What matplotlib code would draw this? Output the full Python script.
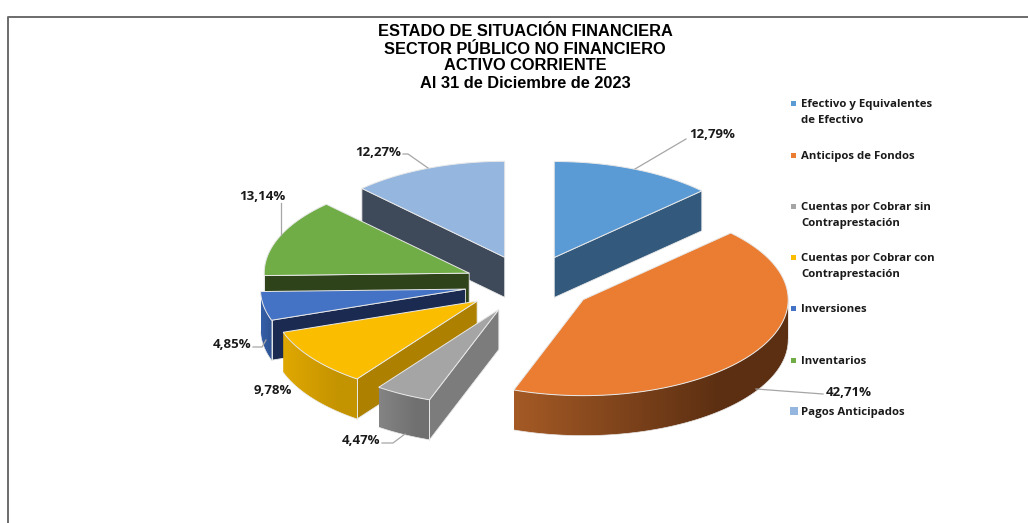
#!/usr/bin/python
import numpy as np
import matplotlib
matplotlib.use('Agg')
import matplotlib.pyplot as plt
from matplotlib.colors import to_rgb
from matplotlib.patches import Polygon, Rectangle

#===============================
title_lines = ["ESTADO DE SITUACIÓN FINANCIERA", "SECTOR PÚBLICO NO FINANCIERO",
               "ACTIVO CORRIENTE", "Al 31 de Diciembre de 2023"]
categories = ["Efectivo y Equivalentes\nde Efectivo", "Anticipos de Fondos",
              "Cuentas por Cobrar sin\nContraprestación",
              "Cuentas por Cobrar con\nContraprestación",
              "Inversiones", "Inventarios", "Pagos Anticipados"]
values = [12.79, 42.71, 4.47, 9.78, 4.85, 13.14, 12.27]

top_colors = ['#5b9bd5', '#ea7d32', '#a5a5a5', '#fbbd00', '#4472c4', '#70ad47', '#95b6df']
cut_colors = ['#335a7c', '#5c2f12', '#7c7c7c', '#ad8000', '#1a2a50', '#2e431a', '#3e4a59']
wall_left = ['#335a7c', '#a55a25', '#848484', '#e0a800', '#3560a8', '#2e431a', '#3e4a59']
wall_right = ['#335a7c', '#5c2f12', '#707070', '#c49300', '#2f5597', '#2e431a', '#3e4a59']

# pie geometry, in pixels of the figure
CX, CY = 529, 284
RX, RY = 205, 96
DEPTH = 40
EXPLODE_X, EXPLODE_Y = 0.315, 0.30
EDGE = '#e8e8e8'
draw_order = [6, 5, 4, 3, 2, 0, 1]

label_pos = [(712, 134), (849, 392), (361, 440), (273, 389), (232, 344), (262, 196), (378, 152)]
leaders = [[(686, 139), (635, 169)], [(823, 394), (756, 389)], [(382, 443), (393, 443), (405, 434)],
           [], [(253, 347), (262, 347), (266, 340)], [(281, 203), (281, 235)],
           [(403, 154), (408, 154), (428, 168)]]
legend_y = [103, 155, 206, 257, 308, 360, 411]

LABEL_FONT = 'Open Sans'

#===============================
def Arc(c, a0, a1, n=80):
  t = np.radians(np.linspace(a0, a1, n))
  return c[0] + RX * np.sin(t), c[1] - RY * np.cos(t)

def CutFace(ax, apex, px, py, color, z):
  quad = [apex, (px, py), (px, py + DEPTH), (apex[0], apex[1] + DEPTH)]
  ax.add_patch(Polygon(quad, closed=True, fc=color, ec=EDGE, lw=0.6, zorder=z))

def DrawSlice(ax, i, a0, a1, z):
  mid = np.radians((a0 + a1) / 2.0)
  apex = (CX + EXPLODE_X * RX * np.sin(mid), CY - EXPLODE_Y * RY * np.cos(mid))
  x, y = Arc(apex, a0, a1)

  # cut faces, only the ones turned to the viewer
  if np.sin(np.radians(a0)) < -1e-6:
    CutFace(ax, apex, x[0], y[0], cut_colors[i], z)
  if np.sin(np.radians(a1)) > 1e-6:
    CutFace(ax, apex, x[-1], y[-1], cut_colors[i], z)

  # the rim, where it faces the viewer, shaded from left to right
  f0, f1 = max(a0, 90), min(a1, 270)
  if f1 > f0:
    fx, fy = Arc(apex, f0, f1, 80)
    pts = list(zip(fx, fy)) + list(zip(fx[::-1], fy[::-1] + DEPTH))
    clip = Polygon(pts, closed=True, fc='none', ec='none', zorder=z + 0.1)
    ax.add_patch(clip)
    t = np.clip(np.linspace(0, 1, 256) / 0.75, 0, 1)[:, None]
    grad = np.array(to_rgb(wall_left[i])) * (1 - t) + np.array(to_rgb(wall_right[i])) * t
    box = (fx.min(), fx.max(), (fy + DEPTH).max(), fy.min())
    im = ax.imshow(grad[None, :, :], extent=box, aspect='auto', zorder=z + 0.1)
    im.set_clip_path(clip)
    ax.plot([fx[0], fx[0]], [fy[0], fy[0] + DEPTH], color=EDGE, lw=0.7, zorder=z + 0.2)
    ax.plot(fx, fy + DEPTH, color=EDGE, lw=0.5, zorder=z + 0.2)

  # the top face
  pts = [apex] + list(zip(x, y))
  ax.add_patch(Polygon(pts, closed=True, fc=top_colors[i], ec=EDGE, lw=0.7, zorder=z + 0.3))

#==================================
def DrawFig(filename):
  fig = plt.figure(figsize=(10.28, 5.23), dpi=100)
  ax = fig.add_axes([0, 0, 1, 1])
  ax.axis('off')

  # chart frame, only its left and top sides are in the picture
  ax.plot([8, 8, 1028], [523, 17, 17], color='#6b6b6b', lw=1.4, zorder=1)

  for line, y in zip(title_lines, [31, 50, 66, 84]):
    ax.text(525, y, line, ha='center', va='center', family='Liberation Sans',
            weight='bold', fontsize=11.8, color='black')

  total = float(sum(values))
  edges = np.concatenate([[0.0], np.cumsum(values)]) / total * 360.0
  for n, i in enumerate(draw_order):
    DrawSlice(ax, i, edges[i], edges[i + 1], 2 + n)

  for i in range(len(values)):
    if leaders[i]:
      lx, ly = zip(*leaders[i])
      ax.plot(lx, ly, color='#a6a6a6', lw=0.9, zorder=20)
    txt = ("%.2f%%" % values[i]).replace('.', ',')
    ax.text(label_pos[i][0], label_pos[i][1] + 1, txt, ha='center', va='center',
            family=LABEL_FONT, weight='bold', fontsize=9.5, color='#1a1a1a', zorder=21)

  for i in range(len(categories)):
    size = 8 if i == 6 else 5
    ax.add_patch(Rectangle((793.5 - size / 2.0, legend_y[i] - size / 2.0), size, size,
                           fc=top_colors[i], ec='none', zorder=20))
    for j, line in enumerate(categories[i].split('\n')):
      ax.text(801, legend_y[i] + 1.5 + j * 15.7, line, ha='left', va='center',
              family=LABEL_FONT, weight='bold', fontsize=8.2, color='#1a1a1a', zorder=21)

  ax.set_xlim(0, 1028)
  ax.set_ylim(523, 0)
  plt.savefig(filename, dpi=100)
  return

#==================================
def main():
  DrawFig('out.png')
  return

if __name__ == '__main__':
  main()
